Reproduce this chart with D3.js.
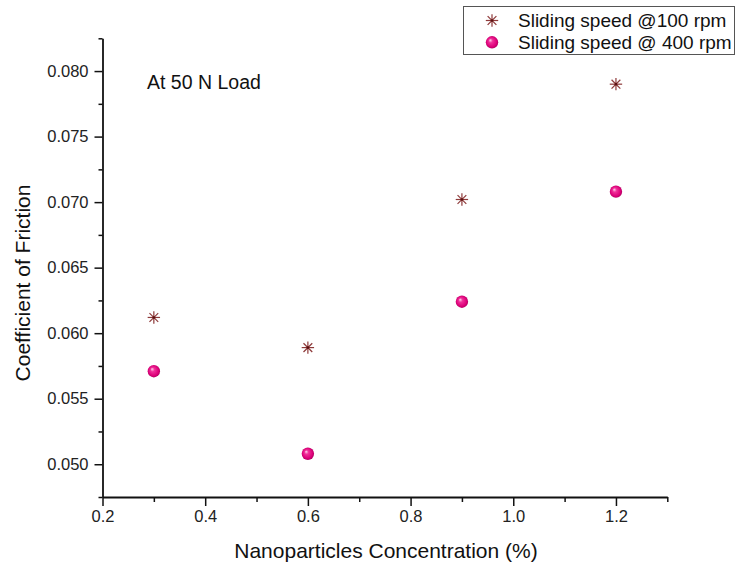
<!DOCTYPE html>
<html><head><meta charset="utf-8">
<script src="https://cdn.jsdelivr.net/npm/d3@7"></script>
<style>body{margin:0;background:#fff;} svg{display:block;font-family:Arial,"Liberation Sans",sans-serif;}</style>
</head><body>
<svg id="c" width="738" height="566"></svg>
<script>
const concentrations = [0.3, 0.6, 0.9, 1.2];
const cof100 = [0.0612, 0.0589, 0.0702, 0.0790];
const cof400 = [0.0571, 0.0508, 0.0624, 0.0708];
const xTicks = [0.2, 0.4, 0.6, 0.8, 1.0, 1.2];
const yTicks = [0.050, 0.055, 0.060, 0.065, 0.070, 0.075, 0.080];
const seriesNames = ["Sliding speed @100 rpm", "Sliding speed @ 400 rpm"];
const xTitle = "Nanoparticles Concentration (%)";
const yTitle = "Coefficient of Friction";
const annotation = "At 50 N Load";

const svg = d3.select("#c");
const L = 102.5, R = 667.3, T = 38.3, B = 497;
const x = d3.scaleLinear().domain([0.2, 1.3]).range([L, R]);
const y = d3.scaleLinear().domain([0.0475, 0.0825]).range([B, T]);

const defs = svg.append("defs");
const g = defs.append("radialGradient").attr("id","ball").attr("cx","50%").attr("cy","50%").attr("r","55%").attr("fx","35%").attr("fy","32%");
g.append("stop").attr("offset","0%").attr("stop-color","#ffd6ec");
g.append("stop").attr("offset","30%").attr("stop-color","#f0309a");
g.append("stop").attr("offset","75%").attr("stop-color","#dc0078");
g.append("stop").attr("offset","100%").attr("stop-color","#a3005a");

// minor ticks
const xMinor = d3.range(0.3, 1.31, 0.2);
const yMinor = d3.range(0.0475, 0.0826, 0.005).map(v => +v.toFixed(4));

const xAxis = d3.axisBottom(x).tickValues(xTicks).tickFormat(d3.format(".1f")).tickSize(9).tickPadding(4).tickSizeOuter(0);
const yAxis = d3.axisLeft(y).tickValues(yTicks).tickFormat(d3.format(".3f")).tickSize(8).tickPadding(6).tickSizeOuter(0);

const gx = svg.append("g").attr("transform", `translate(0,${B})`).call(xAxis);
const gy = svg.append("g").attr("transform", `translate(${L},0)`).call(yAxis);
svg.append("g").attr("transform", `translate(0,${B})`).call(d3.axisBottom(x).tickValues(xMinor).tickSize(5).tickFormat("").tickSizeOuter(0)).select(".domain").remove();
svg.append("g").attr("transform", `translate(${L},0)`).call(d3.axisLeft(y).tickValues(yMinor).tickSize(4).tickFormat("").tickSizeOuter(0)).select(".domain").remove();

svg.selectAll(".domain").attr("stroke","#111").attr("stroke-width",1.8);
svg.selectAll(".tick line").attr("stroke","#111").attr("stroke-width",1.5);
gx.selectAll("text").attr("font-size","16.5px").attr("fill","#222").attr("font-family","Arial, 'Liberation Sans', sans-serif");
gy.selectAll("text").attr("font-size","16.5px").attr("fill","#222").attr("font-family","Arial, 'Liberation Sans', sans-serif");

// titles
svg.append("text").attr("x", 386).attr("y", 558).attr("text-anchor","middle").attr("font-size","21px").attr("fill","#111").text(xTitle);
svg.append("text").attr("transform","translate(30,283) rotate(-90)").attr("text-anchor","middle").attr("font-size","21px").attr("fill","#111").text(yTitle);
svg.append("text").attr("x", 147).attr("y", 89).attr("font-size","19.5px").attr("fill","#111").text(annotation);

function star(sel, cx, cy, r) {
  const gg = sel.append("g").attr("transform", `translate(${cx},${cy})`);
  [0, 45, 90, 135].forEach(a => {
    const rad = a * Math.PI / 180;
    gg.append("line").attr("x1", -r*Math.cos(rad)).attr("y1", -r*Math.sin(rad))
      .attr("x2", r*Math.cos(rad)).attr("y2", r*Math.sin(rad))
      .attr("stroke","#8e3a3a").attr("stroke-width",1.2);
  });
  gg.append("circle").attr("r",1.3).attr("fill","#5a1010");
}
function ball(sel, cx, cy, r) {
  sel.append("circle").attr("cx",cx).attr("cy",cy).attr("r",r).attr("fill","url(#ball)");
}

const pts = svg.append("g");
concentrations.forEach((c, i) => {
  star(pts, x(c), y(cof100[i]), 6.2);
  ball(pts, x(c), y(cof400[i]), 6.2);
});

// legend
const lg = svg.append("g");
lg.append("rect").attr("x",463.5).attr("y",6.5).attr("width",271).attr("height",48).attr("fill","#fff").attr("stroke","#555").attr("stroke-width",1);
star(lg, 492, 20.5, 6.2);
ball(lg, 492, 42.3, 6.2);
lg.append("text").attr("x",518).attr("y",27).attr("font-size","19px").attr("fill","#111").text(seriesNames[0]);
lg.append("text").attr("x",518).attr("y",49).attr("font-size","19px").attr("fill","#111").text(seriesNames[1]);
</script>
</body></html>
